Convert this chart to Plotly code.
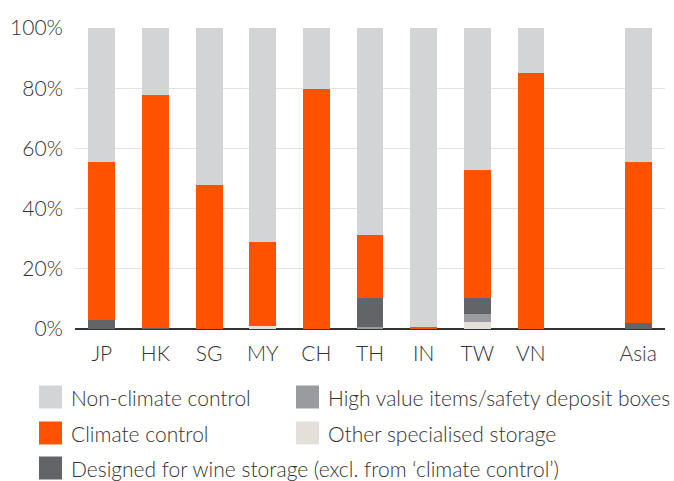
import plotly.graph_objects as go

# Share of storage space by type, per market (%)
markets = ["JP", "HK", "SG", "MY", "CH", "TH", "IN", "TW", "VN", " ", "Asia"]

other_specialised = [0, 0, 0, 1.0, 0, 0, 0, 2.4, 0, 0, 0]
high_value = [0, 0, 0, 0, 0, 0.8, 0, 2.5, 0, 0, 0]
wine_storage = [3.0, 0.5, 0, 0, 0, 9.4, 0, 5.3, 0, 0, 2.1]
climate_control = [52.5, 77.2, 48.0, 27.8, 79.8, 21.0, 0.6, 42.6, 85.0, 0, 53.4]
non_climate = [44.5, 22.3, 52.0, 71.2, 20.2, 68.8, 99.4, 47.2, 15.0, 0, 44.5]

labels = {
    "other": "Other specialised storage",
    "high": "High value items/safety deposit boxes",
    "wine": "Designed for wine storage (excl. from \u2018climate control\u2019)",
    "climate": "Climate control",
    "non": "Non-climate control",
}
colors = {
    "other": "#E4E0D9",
    "high": "#9A9B9F",
    "wine": "#636468",
    "climate": "#FF5200",
    "non": "#D3D4D6",
}
# bottom-to-top stacking order
stack = [
    ("other", other_specialised),
    ("high", high_value),
    ("wine", wine_storage),
    ("climate", climate_control),
    ("non", non_climate),
]
# legend grid: (key, column, row)
legend_layout = [
    ("non", 0, 0), ("high", 1, 0),
    ("climate", 0, 1), ("other", 1, 1),
    ("wine", 0, 2),
]

W, H = 674, 481
ML, MR, MT, MB = 75, 9, 28, 152
PW, PH = W - ML - MR, H - MT - MB

font_family = "Lato"
text_color = "#333333"
font_size = 21


def px_x(px):
    return (px - ML) / PW


def px_y(py):
    return (H - MB - py) / PH


fig = go.Figure()
for key, values in stack:
    fig.add_trace(go.Bar(
        x=markets,
        y=values,
        name=labels[key],
        marker=dict(color=colors[key], line=dict(width=0)),
        showlegend=False,
    ))

# Two-column legend below the chart
col_x = [39, 296]
row_y = [397, 433, 468]
sq = 23
shapes = []
annotations = []
for key, col, row in legend_layout:
    x0 = col_x[col]
    yc = row_y[row]
    shapes.append(dict(
        type="rect", xref="paper", yref="paper",
        x0=px_x(x0), x1=px_x(x0 + sq),
        y0=px_y(yc + sq / 2), y1=px_y(yc - sq / 2),
        fillcolor=colors[key], line=dict(width=0),
    ))
    annotations.append(dict(
        xref="paper", yref="paper",
        x=px_x(x0 + sq + 7), y=px_y(yc),
        xanchor="left", yanchor="middle",
        text=labels[key], showarrow=False,
        font=dict(family=font_family, size=font_size, color=text_color, weight=300),
    ))

fig.update_layout(
    barmode="stack",
    bargap=0.5,
    width=W,
    height=H,
    margin=dict(l=ML, r=MR, t=MT, b=MB),
    paper_bgcolor="white",
    plot_bgcolor="white",
    font=dict(family=font_family, size=font_size, color=text_color, weight=300),
    xaxis=dict(
        type="category",
        showgrid=False,
        showline=False,
        ticks="",
        ticklabelstandoff=10,
        tickfont=dict(family=font_family, size=font_size, color=text_color, weight=300),
    ),
    yaxis=dict(
        range=[0, 100],
        tickvals=[0, 20, 40, 60, 80, 100],
        ticktext=["0%", "20%", "40%", "60%", "80%", "100%"],
        showgrid=True,
        gridcolor="#E3E3E3",
        gridwidth=1,
        zeroline=True,
        zerolinecolor="#333333",
        zerolinewidth=2,
        ticks="",
        ticklabelstandoff=11,
        tickfont=dict(family=font_family, size=font_size, color=text_color, weight=300),
    ),
    shapes=shapes,
    annotations=annotations,
    showlegend=False,
)

fig.write_html("out.html")
